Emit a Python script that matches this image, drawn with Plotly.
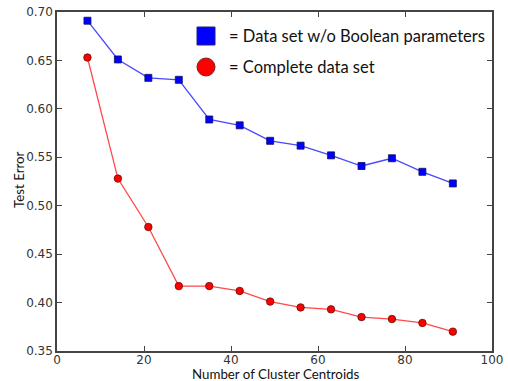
import plotly.graph_objects as go

centroids = [7, 14, 21, 28, 35, 42, 49, 56, 63, 70, 77, 84, 91]
err_no_bool = [0.691, 0.651, 0.632, 0.630, 0.589, 0.583, 0.567, 0.562, 0.552, 0.541, 0.549, 0.535, 0.523]
err_complete = [0.653, 0.528, 0.478, 0.417, 0.417, 0.412, 0.401, 0.395, 0.393, 0.385, 0.383, 0.379, 0.370]
x_ticks = [0, 20, 40, 60, 80, 100]
y_ticks = [0.35, 0.40, 0.45, 0.50, 0.55, 0.60, 0.65, 0.70]
legend_labels = ["= Data set w/o Boolean parameters", "= Complete data set"]
x_title = "Number of Cluster Centroids"
y_title = "Test Error"

fig = go.Figure()
fig.add_trace(go.Scatter(
    x=centroids, y=err_no_bool, mode="lines+markers",
    line=dict(color="rgba(40,40,255,0.85)", width=1.3),
    marker=dict(symbol="square", size=7, color="#0000ff", line=dict(color="#101060", width=0.8)),
    showlegend=False))
fig.add_trace(go.Scatter(
    x=centroids, y=err_complete, mode="lines+markers",
    line=dict(color="rgba(255,40,40,0.85)", width=1.3),
    marker=dict(symbol="circle", size=7.5, color="#ff0000", line=dict(color="#601010", width=0.8)),
    showlegend=False))

W, H = 508, 381
L, R, T, B = 57, 16, 12, 30
pw, ph = W - L - R, H - T - B

def px(xp):
    return (xp - L) / pw

def py(yp):
    return 1 - (yp - T) / ph

TITLE_FONT = dict(family="Lato, Open Sans, sans-serif", size=13.3, color="#111111")

# custom legend
fig.add_shape(type="rect", xref="paper", yref="paper",
              x0=px(197), x1=px(215), y0=py(45), y1=py(27),
              fillcolor="#0000ff", line=dict(color="#202080", width=1))
fig.add_shape(type="circle", xref="paper", yref="paper",
              x0=px(197), x1=px(215), y0=py(76), y1=py(58),
              fillcolor="#ff0000", line=dict(color="#802020", width=1))
for lab, yc in zip(legend_labels, [36, 67]):
    fig.add_annotation(text=lab, xref="paper", yref="paper", x=px(227), y=py(yc),
                       xanchor="left", yanchor="middle", showarrow=False,
                       font=dict(family="Lato, Open Sans, sans-serif", size=16.5, color="#111111"))

# axis titles
fig.add_annotation(text=x_title, xref="paper", yref="paper", x=px(276), y=py(373.5),
                   xanchor="center", yanchor="middle", showarrow=False, borderpad=0,
                   font=TITLE_FONT)
fig.add_annotation(text=y_title, xref="paper", yref="paper", x=px(19), y=py(180),
                   xanchor="center", yanchor="middle", showarrow=False, textangle=-90,
                   borderpad=0, font=TITLE_FONT)

axis_common = dict(showgrid=False, zeroline=False, showline=True, linecolor="#444444",
                   linewidth=1.5, mirror="ticks", ticks="inside", ticklen=5,
                   tickcolor="#444444", tickwidth=1, automargin=False,
                   tickfont=dict(family="DejaVu Sans", size=12, color="#333333"))

fig.update_xaxes(range=[0, 100], tickvals=x_ticks, ticktext=[str(v) for v in x_ticks],
                 ticklabelstandoff=-3, **axis_common)
fig.update_yaxes(range=[0.35, 0.70], tickvals=y_ticks, ticktext=[f"{v:.2f}" for v in y_ticks],
                 **axis_common)

fig.update_layout(width=W, height=H, margin=dict(l=L, r=R, t=T, b=B),
                  plot_bgcolor="white", paper_bgcolor="white")
fig.write_html("out.html", config={"displayModeBar": False},
               post_script="document.body.style.margin='0';")
